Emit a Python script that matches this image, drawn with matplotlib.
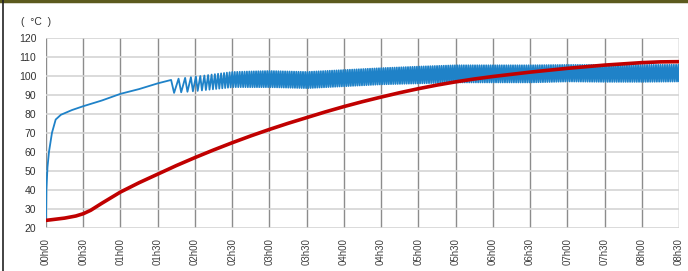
import numpy as np
import matplotlib
matplotlib.use('Agg')
import matplotlib.pyplot as plt
from matplotlib.lines import Line2D

plt.rcParams['font.family'] = ['Liberation Sans', 'DejaVu Sans']

# time axis (hours) and tick labels
tick_hours = [i * 0.5 for i in range(18)]
tick_labels = ['00h00', '00h30', '01h00', '01h30', '02h00', '02h30', '03h00', '03h30',
               '04h00', '04h30', '05h00', '05h30', '06h00', '06h30', '07h00', '07h30',
               '08h00', '08h30']

# red curve (slow heating)
red_t = [0, 0.25, 0.4, 0.5, 0.6, 0.75, 1.0, 1.25, 1.5, 1.75, 2.0, 2.25, 2.5, 2.75, 3.0,
         3.25, 3.5, 3.75, 4.0, 4.25, 4.5, 4.75, 5.0, 5.25, 5.5, 5.75, 6.0, 6.5, 7.0,
         7.5, 8.0, 8.25, 8.5]
red_v = [24, 25.2, 26.3, 27.5, 29.3, 33, 38.9, 43.8, 48.3, 52.8, 57, 61, 64.8, 68.4, 71.8,
         75, 78, 81, 83.8, 86.4, 88.8, 91.1, 93.2, 95.1, 96.8, 98.3, 99.6, 101.9, 103.9,
         105.6, 106.9, 107.3, 107.4]

# blue curve, smooth rise before the on/off regulation starts
blue_t = [0, 0.005, 0.02, 0.04, 0.08, 0.13, 0.2, 0.35, 0.5, 0.75, 1.0, 1.25, 1.5, 1.68]
blue_v = [24, 40, 52, 60, 70, 77, 79.5, 82, 84, 87, 90.5, 93, 96, 97.8]

# blue regulation band: envelope and cycle length (hours)
band_t = [1.68, 2.0, 2.5, 3.0, 3.5, 4.0, 4.5, 5.0, 5.5, 6.0, 6.5, 7.0, 7.5, 8.0, 8.5]
band_hi = [98, 99.5, 102, 102.5, 102, 103, 104, 104.8, 105.5, 105.5, 105.5, 105.7, 105.7, 105.7, 105.8]
band_lo = [91, 92, 94, 94, 93.5, 94.5, 95.5, 96, 96.5, 96.5, 96.5, 97, 96.8, 96.8, 97]
cycle_t = [1.68, 1.85, 2.0, 2.2, 2.5, 2.8, 8.5]
cycle_len = [0.1, 0.08, 0.06, 0.045, 0.034, 0.03, 0.03]

# zigzag through the band, one trough and one peak per cycle
osc_t, osc_v = list(blue_t), list(blue_v)
t = blue_t[-1]
while t < 8.5:
    p = np.interp(t, cycle_t, cycle_len)
    osc_t.append(t + 0.4 * p)
    osc_v.append(np.interp(t, band_t, band_lo))
    t = t + p
    osc_t.append(min(t, 8.5))
    osc_v.append(np.interp(t, band_t, band_hi))

fig = plt.figure(figsize=(6.88, 2.71), dpi=100)
ax = fig.add_axes([46 / 688, 1 - 228 / 271, 633 / 688, (228 - 37.7) / 271])

ax.plot(osc_t, osc_v, color='#1f82c8', lw=1.3)
ax.plot(red_t, red_v, color='#c00000', lw=2.6, solid_capstyle='round')

ax.set_xlim(0, 8.5)
ax.set_ylim(20, 120)
ax.set_xticks(tick_hours)
ax.set_xticklabels(tick_labels, rotation=90, fontsize=7, color='#404040')
ax.set_yticks(range(20, 121, 10))
ax.tick_params(axis='y', labelsize=7.5, labelcolor='#333333', length=0, pad=7)
ax.tick_params(axis='x', length=0, pad=7)
ax.grid(axis='y', color='#d4d4d4', lw=1.2)
ax.grid(axis='x', color='#8c8c8c', lw=1.0)
ax.set_axisbelow(True)
for s in ax.spines.values():
    s.set_visible(False)

fig.text(21 / 688, 1 - 22 / 271, '(  °C  )', fontsize=7.5, color='#333333', va='center')

# outer frame bits
fig.add_artist(Line2D([0, 1], [0.997, 0.997], color='#5c5a1e', lw=2.5, transform=fig.transFigure))
fig.add_artist(Line2D([3 / 688, 3 / 688], [0, 1], color='#222222', lw=1.2, transform=fig.transFigure))

fig.savefig('out.png', dpi=100)
